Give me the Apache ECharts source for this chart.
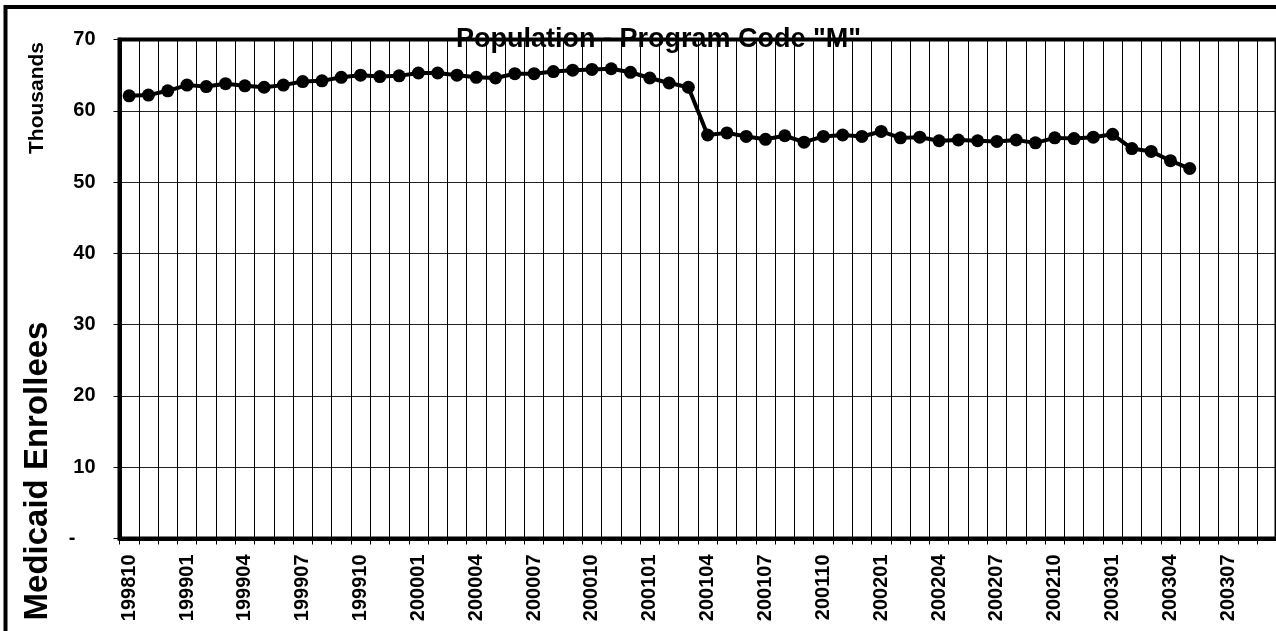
<!DOCTYPE html>
<html>
<head>
<meta charset="utf-8">
<script src="https://cdn.jsdelivr.net/npm/echarts@6/dist/echarts.min.js"></script>
<style>
  html, body { margin: 0; padding: 0; background: #fff; }
  #chart { width: 1276px; height: 631px; }
</style>
</head>
<body>
<div id="chart"></div>
<script>
  // months shown on the x axis
  var months = [
    '199810', '199811', '199812', '199901', '199902', '199903', '199904', '199905', '199906', '199907',
    '199908', '199909', '199910', '199911', '199912', '200001', '200002', '200003', '200004', '200005',
    '200006', '200007', '200008', '200009', '200010', '200011', '200012', '200101', '200102', '200103',
    '200104', '200105', '200106', '200107', '200108', '200109', '200110', '200111', '200112', '200201',
    '200202', '200203', '200204', '200205', '200206', '200207', '200208', '200209', '200210', '200211',
    '200212', '200301', '200302', '200303', '200304', '200305', '200306', '200307', '200308', '200309'
  ];
  // enrollees, thousands (no data after 200305)
  var enrollees = [
    62.1, 62.2, 62.8, 63.6, 63.4, 63.8, 63.5, 63.3, 63.6, 64.1,
    64.2, 64.7, 65.0, 64.8, 64.9, 65.3, 65.3, 65.0, 64.7, 64.6,
    65.2, 65.2, 65.5, 65.7, 65.8, 65.9, 65.4, 64.6, 63.9, 63.3,
    56.6, 56.9, 56.4, 56.0, 56.5, 55.6, 56.4, 56.6, 56.4, 57.1,
    56.2, 56.3, 55.8, 55.9, 55.8, 55.7, 55.9, 55.5, 56.2, 56.1,
    56.3, 56.7, 54.7, 54.3, 53.0, 51.9, null, null, null, null
  ];
  var yTicks = [0, 10, 20, 30, 40, 50, 60, 70];

  var font = '"Liberation Sans", Arial, sans-serif';
  var myChart = echarts.init(document.getElementById('chart'));
  var option = {
    animation: false,
    title: {
      text: 'Population - Program Code "M"',
      left: 451,
      top: 21,
      textStyle: { fontFamily: font, fontSize: 27, fontWeight: 'bold', color: '#000' }
    },
    graphic: [
      {
        type: 'rect',
        shape: { x: 5.5, y: 7, width: 1500, height: 900 },
        style: { fill: 'none', stroke: '#000', lineWidth: 4 },
        silent: true
      },
      {
        type: 'text',
        x: 37, y: 98, rotation: Math.PI / 2,
        style: {
          text: 'Thousands', fill: '#000', font: 'bold 21px ' + font,
          textAlign: 'center', textVerticalAlign: 'middle'
        }
      },
      {
        type: 'text',
        x: 38, y: 471, rotation: Math.PI / 2,
        style: {
          text: 'Medicaid Enrollees', fill: '#000', font: 'bold 33px ' + font,
          textAlign: 'center', textVerticalAlign: 'middle'
        }
      }
    ],
    grid: {
      left: 119.5,
      top: 39.5,
      width: 1157,
      height: 499,
      outerBoundsMode: 'none',
      show: true,
      borderColor: '#000',
      borderWidth: 4,
      z: 3
    },
    xAxis: {
      type: 'category',
      data: months,
      boundaryGap: true,
      axisLine: { show: true, lineStyle: { color: '#000', width: 4 } },
      axisTick: { show: true, interval: 0, length: 6, lineStyle: { color: '#000', width: 1 } },
      axisLabel: {
        interval: 2,
        rotate: 90,
        margin: 16,
        color: '#000',
        fontFamily: font,
        fontSize: 20,
        fontWeight: 'bold'
      },
      splitLine: { show: true, interval: 0, lineStyle: { color: '#000', width: 1 } }
    },
    yAxis: {
      type: 'value',
      min: yTicks[0],
      max: yTicks[yTicks.length - 1],
      interval: 10,
      axisLine: { show: true, lineStyle: { color: '#000', width: 4 } },
      axisTick: { show: true, length: 6, lineStyle: { color: '#000', width: 1 } },
      axisLabel: {
        margin: 24,
        color: '#000',
        fontFamily: font,
        fontSize: 20,
        fontWeight: 'bold',
        formatter: function (v) {
          return v === 0 ? '{d|-}' : String(v);
        },
        rich: {
          d: { fontFamily: font, fontSize: 20, fontWeight: 'bold', color: '#000', padding: [0, 20, 0, 0] }
        }
      },
      splitLine: { show: true, lineStyle: { color: '#222', width: 1 } }
    },
    series: [
      {
        name: 'Enrollees',
        type: 'line',
        data: enrollees,
        symbol: 'circle',
        symbolSize: 13,
        showAllSymbol: true,
        connectNulls: false,
        lineStyle: { color: '#000', width: 4 },
        itemStyle: { color: '#000' },
        z: 5
      }
    ]
  };
  myChart.setOption(option);
</script>
</body>
</html>
